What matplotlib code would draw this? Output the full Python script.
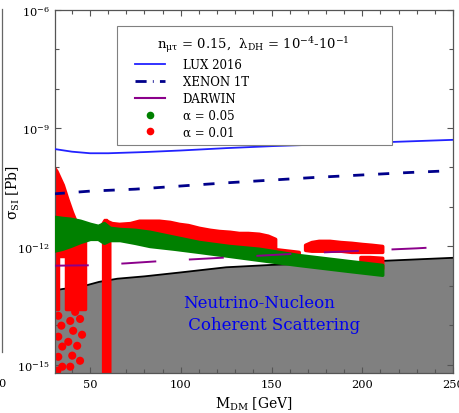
import matplotlib
matplotlib.use('Agg')
import matplotlib.pyplot as plt
import numpy as np
from matplotlib.lines import Line2D
from matplotlib.patches import Rectangle
from matplotlib.ticker import FixedLocator, FixedFormatter, NullFormatter, MultipleLocator

plt.rcParams['font.family'] = ['DejaVu Serif']
plt.rcParams['mathtext.fontset'] = 'dejavuserif'
plt.rcParams['lines.scale_dashes'] = False

# ---------------- data (y values given as log10 of sigma in pb) ----------------
lux_x = [30, 40, 50, 60, 80, 100, 125, 150, 175, 200, 225, 250]
lux_log = [-9.53, -9.60, -9.64, -9.64, -9.61, -9.57, -9.51, -9.46, -9.42, -9.38, -9.34, -9.30]

xenon_x = [30, 50, 75, 100, 125, 150, 175, 200, 225, 250]
xenon_log = [-10.67, -10.60, -10.55, -10.47, -10.39, -10.32, -10.25, -10.19, -10.13, -10.08]

darwin_x = [30, 50, 70, 90, 110, 130, 150, 170, 190, 210, 230, 250]
darwin_log = [-12.49, -12.48, -12.43, -12.37, -12.32, -12.27, -12.22, -12.17, -12.13, -12.09, -12.05, -12.0]

floor_x = [30, 35, 40, 47, 55, 65, 80, 100, 125, 150, 175, 200, 225, 250]
floor_log = [-13.12, -13.08, -13.05, -13.0, -12.9, -12.82, -12.76, -12.66, -12.53, -12.47, -12.43, -12.39, -12.34, -12.29]

# alpha = 0.05 (green) band
green_x = [30, 34.7, 39.1, 44.5, 50, 54.4, 57.7, 60.9, 66.4, 74.6, 82.8, 96.4, 110.1, 126.5, 142.9, 164.8, 192.1, 211]
green_hi = [-11.25, -11.28, -11.30, -11.35, -11.43, -11.48, -11.41, -11.53, -11.56, -11.58, -11.63, -11.76, -11.89, -11.99, -12.06, -12.22, -12.37, -12.47]
green_lo = [-12.11, -12.06, -11.99, -11.89, -11.81, -11.81, -11.91, -11.84, -11.84, -11.91, -11.99, -12.06, -12.14, -12.24, -12.34, -12.47, -12.62, -12.72]

# alpha = 0.01 (red) regions
redA_x = [30, 31.5, 33, 35, 37.5, 40, 42.5, 45, 50, 55, 58, 62, 66, 72, 77, 83, 88, 94, 99, 104, 110, 116, 121, 127, 132, 137, 143, 148, 152]
redA_hi = [-9.99, -10.09, -10.24, -10.44, -10.80, -11.13, -11.41, -11.56, -11.61, -11.56, -11.33, -11.41, -11.43, -11.41, -11.35, -11.35, -11.35, -11.38, -11.43, -11.46, -11.53, -11.58, -11.61, -11.63, -11.66, -11.66, -11.68, -11.73, -11.81]
redA_lo = [-11.9, -11.9, -11.9, -11.9, -11.9, -11.9, -11.85, -11.8, -11.7, -11.7, -11.7, -11.7, -11.7, -11.72, -11.75, -11.8, -11.85, -11.88, -11.9, -11.95, -12.0, -12.03, -12.06, -12.1, -12.13, -12.16, -12.2, -12.23, -12.25]

redB_x = [30, 32.6, 32.6, 36.6, 36.6, 47.3]
redB_hi = [-11.85, -11.85, -11.85, -11.85, -11.85, -11.85]
redB_lo = [-13.58, -13.58, -12.24, -12.24, -13.58, -13.58]

redC_x = [57.2, 58.9, 60.6]
redC_hi = [-11.45, -11.33, -11.45]
redC_lo = [-15.4, -15.4, -15.4]

redE_x = [137, 150, 165]
redE_hi = [-11.99, -12.06, -12.14]
redE_lo = [-12.14, -12.22, -12.29]

redF_x = [168.5, 172, 176, 182, 188, 194, 200, 205, 211]
redF_hi = [-11.96, -11.89, -11.86, -11.86, -11.89, -11.91, -11.94, -11.96, -11.99]
redF_lo = [-12.09, -12.11, -12.11, -12.11, -12.11, -12.14, -12.14, -12.14, -12.14]

redG_x = [199, 204, 211]
redG_hi = [-12.27, -12.27, -12.29]
redG_lo = [-12.5, -12.5, -12.55]

red_dots_x = [32.5, 34.2, 32.5, 34.7, 32.5, 34.7, 32.0, 41.8, 39.1, 44.5, 40.7, 45.6, 38.0, 42.9, 40.2, 44.5, 39.1]
red_dots_log = [-13.76, -14.01, -14.29, -14.54, -14.80, -15.05, -15.15, -13.66, -13.89, -13.84, -14.14, -14.24, -14.42, -14.52, -14.77, -14.90, -15.05]

x_major = [50, 100, 150, 200, 250]
x_labels = ['50', '100', '150', '200', '250']
y_major = [1e-15, 1e-12, 1e-9, 1e-6]
y_labels = [r'$10^{-15}$', r'$10^{-12}$', r'$10^{-9}$', r'$10^{-6}$']
y_minor = [1e-14, 1e-13, 1e-11, 1e-10, 1e-8, 1e-7]

legend_title = r'n$_{\mathrm{μτ}}$ = 0.15,  λ$_{\mathrm{DH}}$ = 10$^{\mathrm{-4}}$-10$^{\mathrm{-1}}$'
legend_labels = ['LUX 2016', 'XENON 1T', 'DARWIN', 'α = 0.05', 'α = 0.01']

# ---------------- styles ----------------
C_LUX = '#2222ff'
C_XEN = '#00008b'
C_DAR = '#8b008b'
C_GREEN = '#008000'
C_RED = '#ff0000'
C_GRAY = '#808080'

fig = plt.figure(figsize=(4.6, 4.14), dpi=100)
ax = fig.add_axes([0.1196, 0.0966, 0.8652, 0.8777])
ax.set_yscale('log')
ax.set_xlim(30.7, 250)
ax.set_ylim(10 ** -15.21, 1e-6)

p = lambda v: 10 ** np.asarray(v, dtype=float)

# neutrino floor
ax.fill_between(floor_x, 1e-20, p(floor_log), facecolor=C_GRAY, edgecolor='none', zorder=1)
ax.plot(floor_x, p(floor_log), color='black', lw=1.3, zorder=1.5)

def region(x, lo, hi, color, z):
    ax.fill_between(x, p(lo), p(hi), facecolor=color, edgecolor=color,
                    linewidth=2.5, joinstyle='round', zorder=z)

for xs, lo, hi in [(redA_x, redA_lo, redA_hi), (redB_x, redB_lo, redB_hi),
                   (redC_x, redC_lo, redC_hi), (redE_x, redE_lo, redE_hi),
                   (redF_x, redF_lo, redF_hi), (redG_x, redG_lo, redG_hi)]:
    region(xs, lo, hi, C_RED, 2)
ax.scatter(red_dots_x, p(red_dots_log), s=34, color=C_RED, edgecolors='none', zorder=2)

region(green_x, green_lo, green_hi, C_GREEN, 3)

ax.plot(lux_x, p(lux_log), color=C_LUX, lw=1.3, zorder=5)
ax.plot(xenon_x, p(xenon_log), color=C_XEN, lw=2.0, ls=(0, (8, 10)), zorder=5)
ax.plot(darwin_x, p(darwin_log), color=C_DAR, lw=1.4, ls=(0, (25.2, 23.5)), zorder=5)

ax.text(0.3216, 0.164, 'Neutrino-Nucleon\n Coherent Scattering', transform=ax.transAxes,
        ha='left', va='center', color='#0000ee', fontsize=12, linespacing=1.36, zorder=6)

# ticks
ax.xaxis.set_major_locator(FixedLocator(x_major))
ax.xaxis.set_major_formatter(FixedFormatter(x_labels))
ax.xaxis.set_minor_locator(MultipleLocator(10))
ax.yaxis.set_major_locator(FixedLocator(y_major))
ax.yaxis.set_major_formatter(FixedFormatter(y_labels))
ax.yaxis.set_minor_locator(FixedLocator(y_minor))
ax.yaxis.set_minor_formatter(NullFormatter())
ax.tick_params(which='both', direction='in', top=True, right=True, color='#555555', labelsize=8.2, width=0.8)
ax.tick_params(which='major', length=4.3, pad=4)
ax.tick_params(which='minor', length=2.6)
for s in ax.spines.values():
    s.set_color('#555555')
    s.set_linewidth(0.9)

ax.set_xlabel('M$_{\\mathrm{DM}}$ [GeV]', fontsize=10)
ax.set_ylabel('σ$_{\\mathrm{SI}}$ [Pb]', fontsize=10)
ax.xaxis.set_label_coords(0.5, -0.06)
ax.yaxis.set_label_coords(-0.084, 0.5)

# legend: frame, title and entries
ax.add_patch(Rectangle((0.1558, 0.6275), 0.691, 0.3275, transform=ax.transAxes,
                       facecolor='white', edgecolor='#808080', linewidth=0.8, zorder=9))
ax.text(0.4975, 0.906, legend_title, transform=ax.transAxes, ha='center', va='center',
        fontsize=9.5, zorder=10)
handles = [Line2D([], [], color=C_LUX, lw=1.3),
           Line2D([], [], color=C_XEN, lw=2.0, ls=(0, (8, 4.5, 0.6, 4.5))),
           Line2D([], [], color=C_DAR, lw=1.5),
           Line2D([], [], ls='none', marker='o', ms=5.5, color=C_GREEN, markeredgewidth=0),
           Line2D([], [], ls='none', marker='o', ms=5.5, color=C_RED, markeredgewidth=0)]
leg = ax.legend(handles, legend_labels, loc='upper left',
                bbox_to_anchor=(0.201, 0.867), borderaxespad=0, borderpad=0,
                fontsize=8.5, frameon=False, labelspacing=0.33,
                handlelength=2.54, handletextpad=1.5)
leg.set_zorder(11)

# neighbouring panel remnants at the left edge
fig.add_artist(Line2D([2 / 460, 2 / 460], [1 - 10 / 414, 1 - 353 / 414], transform=fig.transFigure,
                      color='#666666', lw=0.9))
fig.text(1.5 / 460, 1 - 384 / 414, '0', ha='center', va='center', fontsize=8.2)

fig.savefig('out.png', dpi=100)
